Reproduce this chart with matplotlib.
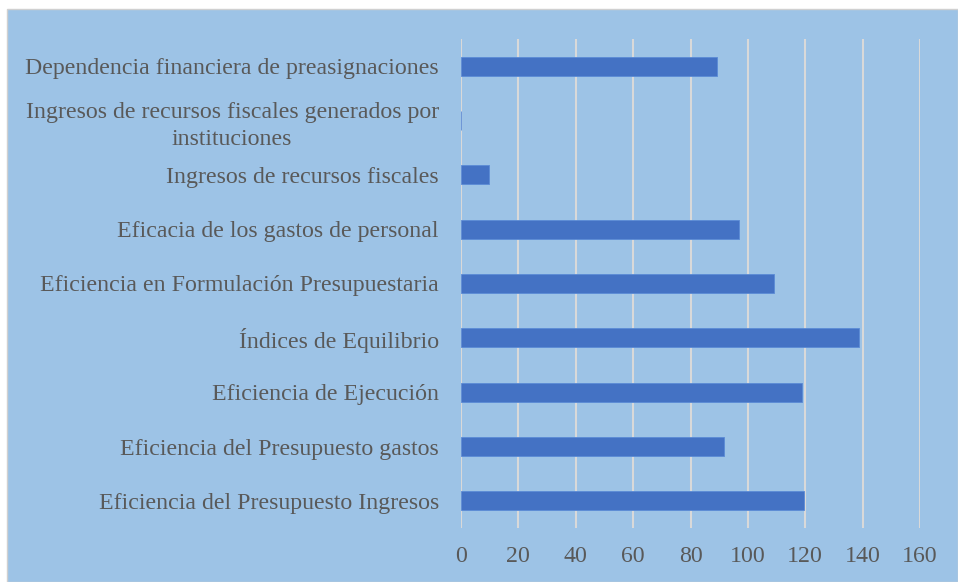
import matplotlib.pyplot as plt
from matplotlib.patches import Rectangle

# Indicator names (bottom to top) and values
categories = [
    "Eficiencia del Presupuesto Ingresos",
    "Eficiencia del Presupuesto gastos",
    "Eficiencia de Ejecución",
    "Índices de Equilibrio",
    "Eficiencia en Formulación Presupuestaria",
    "Eficacia de los gastos de personal",
    "Ingresos de recursos fiscales",
    "Ingresos de recursos fiscales generados por\ninstituciones",
    "Dependencia financiera de preasignaciones",
]
values = [119.5, 91.8, 118.9, 138.7, 109, 96.9, 9.8, 0, 89.2]
xticks = [0, 20, 40, 60, 80, 100, 120, 140, 160]

bg = "#9DC3E6"
bar_color = "#4472C4"
text_color = "#595959"

plt.rcParams['font.family'] = ['Liberation Serif', 'DejaVu Serif']

fig = plt.figure(figsize=(9.58, 5.82), dpi=100)
fig.patch.set_facecolor("white")

# blue chart area with a thin grey border on the left/top
fig.patches.append(Rectangle((7 / 958, 0), 1 - 7 / 958, 1 - 9 / 582,
                             transform=fig.transFigure, facecolor=bg,
                             edgecolor="#D0D0D0", linewidth=1.0, zorder=-10))

ax = fig.add_axes([461 / 958, 54 / 582, 459 / 958, 489 / 582])
ax.set_facecolor("none")

y = range(len(categories))
ax.barh(y, values, height=0.35, color=bar_color, edgecolor="#5B8BD6",
        linewidth=0.6, zorder=3)

ax.set_xlim(0, 160)
ax.set_ylim(-0.5, len(categories) - 0.5)
ax.set_xticks(xticks)
ax.set_xticklabels([str(t) for t in xticks])
ax.set_yticks(list(y))
ax.set_yticklabels(categories, multialignment="center", linespacing=1.35)

ax.grid(axis="x", color="#D9D9D9", linewidth=1.5, zorder=1)
ax.grid(axis="y", visible=False)
for s in ax.spines.values():
    s.set_visible(False)

ax.tick_params(axis="x", length=0, pad=13, labelsize=17.2, labelcolor=text_color)
ax.tick_params(axis="y", length=0, pad=16, labelsize=17.2, labelcolor=text_color)

fig.savefig("out.png", dpi=100)
